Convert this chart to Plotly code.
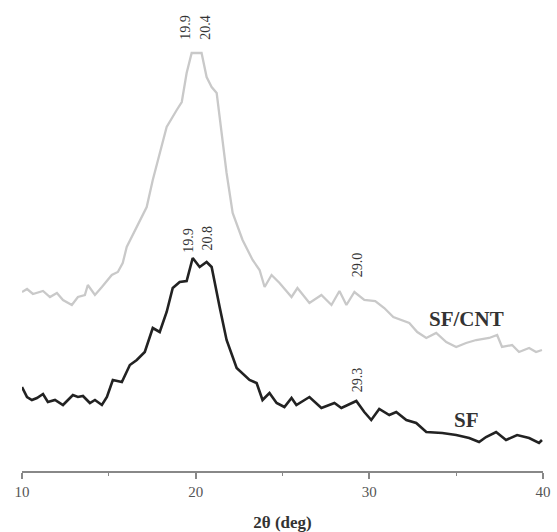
import plotly.graph_objects as go

# 2-theta (deg) and intensity (a.u.) for SF
sf_x = [10.00, 10.29, 10.57, 10.86, 11.21, 11.49, 11.90, 12.36, 12.93, 13.22, 13.51, 13.91,
        14.20, 14.60, 14.89, 15.23, 15.75, 16.21, 16.61, 17.07, 17.53, 17.93, 18.33, 18.68,
        19.08, 19.48, 19.83, 20.23, 20.63, 20.92, 21.38, 21.78, 22.36, 23.10, 23.51, 23.85,
        24.25, 24.66, 25.11, 25.52, 25.80, 26.55, 27.24, 27.99, 28.39, 29.25, 29.71, 30.11,
        30.57, 31.15, 31.55, 32.13, 32.70, 33.28, 34.20, 35.00, 35.75, 36.32, 36.72, 37.30,
        37.87, 38.51, 39.20, 39.77, 39.94]
sf_y = [84, 74, 71, 73, 77, 69, 71, 66, 76, 74, 75, 68,
        71, 66, 74, 91, 89, 106, 111, 119, 143, 139, 159, 183,
        189, 190, 213, 204, 209, 204, 164, 131, 103, 91, 88, 71,
        78, 68, 64, 73, 66, 74, 63, 68, 63, 70, 59, 51,
        62, 56, 59, 51, 48, 39, 38, 36, 33, 29, 34, 39,
        31, 36, 33, 28, 31]

# SF/CNT
cnt_x = [10.00, 10.29, 10.63, 11.21, 11.61, 12.01, 12.36, 12.87, 13.22, 13.62, 13.79, 14.20,
         14.60, 15.17, 15.52, 15.80, 16.03, 16.61, 17.18, 17.53, 18.33, 18.91, 19.20, 19.48,
         19.77, 20.34, 20.63, 20.92, 21.21, 21.78, 22.13, 22.70, 23.28, 23.68, 23.97, 24.37,
         24.83, 25.52, 25.86, 26.55, 27.24, 27.82, 28.28, 28.68, 29.14, 29.71, 30.34, 30.86,
         31.38, 32.30, 32.76, 33.28, 33.85, 34.43, 35.00, 35.57, 36.15, 36.90, 37.36, 37.64,
         38.22, 38.62, 39.20, 39.60, 39.94]
cnt_y = [179, 182, 177, 180, 174, 178, 171, 166, 174, 176, 186, 176,
         184, 196, 199, 208, 224, 244, 264, 291, 344, 361, 369, 398,
         418, 418, 394, 384, 378, 298, 258, 231, 211, 201, 184, 196,
         188, 174, 183, 168, 176, 166, 180, 166, 179, 171, 170, 163,
         154, 148, 139, 133, 138, 129, 124, 128, 131, 133, 136, 124,
         126, 119, 123, 119, 121]

tick_vals = [10, 20, 30, 40]
tick_text = ["10", "20", "30", "40"]

# peak labels: (angle text, x position, y position)
peak_labels = [("19.9", 19.37, 444), ("20.4", 20.52, 444),
               ("19.9", 19.54, 231), ("20.8", 20.63, 233),
               ("29.0", 29.31, 206), ("29.3", 29.3, 91)]
series_labels = [("SF/CNT", 35.6, 152), ("SF", 35.6, 51)]

fig = go.Figure()
fig.add_trace(go.Scatter(x=cnt_x, y=cnt_y, mode="lines",
                         line=dict(color="#c9c9c9", width=2.3), showlegend=False))
fig.add_trace(go.Scatter(x=sf_x, y=sf_y, mode="lines",
                         line=dict(color="#222222", width=2.6), showlegend=False))

serif = "Liberation Serif"
for txt, x, y in peak_labels:
    fig.add_annotation(x=x, y=y, text=txt, textangle=-90, showarrow=False,
                       xref="x", yref="y", xanchor="center", yanchor="middle",
                       font=dict(family=serif, size=14, color="#333333"))
for txt, x, y in series_labels:
    fig.add_annotation(x=x, y=y, text="<b>" + txt + "</b>", showarrow=False,
                       xref="x", yref="y", xanchor="center", yanchor="middle",
                       font=dict(family=serif, size=21, color="#333333"))

fig.update_layout(
    width=557, height=532,
    margin=dict(l=22, r=14, t=0, b=61),
    paper_bgcolor="white", plot_bgcolor="white",
    xaxis=dict(range=[10, 40], tickvals=tick_vals, ticktext=tick_text,
               automargin=False,
               showgrid=False, zeroline=False, showline=True,
               linecolor="#888888", linewidth=1.5,
               ticks="outside", ticklen=6, tickwidth=1.5, tickcolor="#888888",
               minor=dict(tickvals=[15, 25, 35], ticks="outside", ticklen=3,
                          tickwidth=1.2, tickcolor="#888888"),
               tickfont=dict(family=serif, size=15, color="#555555"),
               title=dict(text="<b>2θ (deg)</b>", standoff=18,
                          font=dict(family=serif, size=17, color="#333333"))),
    yaxis=dict(range=[0, 471], visible=False),
)

fig.write_html("out.html", config={"displayModeBar": False},
               post_script="document.body.style.margin='0';")
